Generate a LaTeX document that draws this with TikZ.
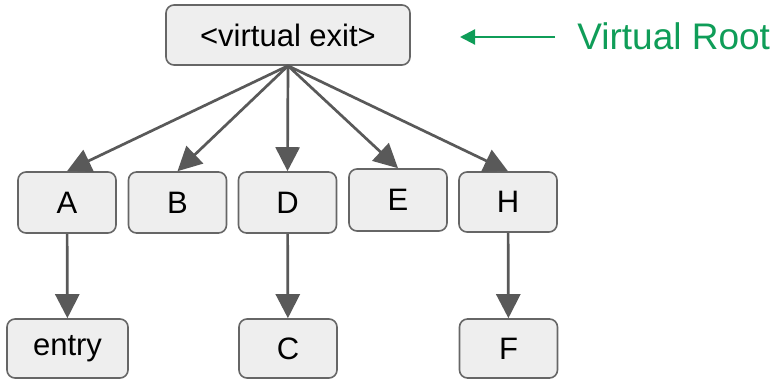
\documentclass[tikz,border=0pt]{standalone}
\usepackage{fontspec}
\setmainfont{Liberation Sans}
\usetikzlibrary{arrows.meta}
\definecolor{boxfill}{HTML}{EEEEEE}
\definecolor{boxline}{HTML}{666666}
\definecolor{edgegray}{HTML}{595959}
\definecolor{rootgreen}{HTML}{0F9D58}
\begin{document}
\begin{tikzpicture}[x=0.5pt,y=-0.5pt,
    box/.style={draw=boxline,fill=boxfill,line width=0.8pt,rounded corners=4pt,
      inner sep=0pt,minimum width=49pt,minimum height=30.5pt,font=\fontsize{15.5}{18}\selectfont},
    edge/.style={draw=edgegray,line width=1.35pt,-{Triangle[length=12pt,width=12pt]}}]
      \useasboundingbox (0,0) rectangle (776,379);
      \draw
        (288,35) node[box,minimum width=122pt,minimum height=30pt] (exit){<virtual exit>}
        (67,202.5) node[box] (A){A}
        (177.5,202.5) node[box] (B){B}
        (287.5,202.5) node[box] (D){D}
        (398,200) node[box,minimum height=31pt] (E){E}
        (508,202) node[box,minimum height=30pt] (H){H}
        (67.5,348.5) node[box,minimum width=60.5pt,minimum height=29.5pt] (entry){entry}
        (288,348.5) node[box,minimum height=29.5pt] (C){C}
        (508.5,348.5) node[box,minimum height=29.5pt] (F){F};
      \begin{scope}[edge]
        \draw (exit.south) to (A.north);
        \draw (exit.south) to (B.north);
        \draw (exit.south) to (D.north);
        \draw (exit.south) to (E.north);
        \draw (exit.south) to (H.north);
        \draw (A) to (entry);
        \draw (D) to (C);
        \draw (H) to (F);
      \end{scope}
      \draw (577,36) node[anchor=west,text=rootgreen,inner sep=0pt,
        font=\fontsize{18.5}{22}\selectfont] (root){Virtual Root};
      \coordinate (rootarrow) at (555,37);
      \draw[draw=rootgreen,line width=1.1pt,-{Triangle[length=7.5pt,width=7.5pt]}]
        (rootarrow) -- (460,37);
    \end{tikzpicture}
\end{document}
